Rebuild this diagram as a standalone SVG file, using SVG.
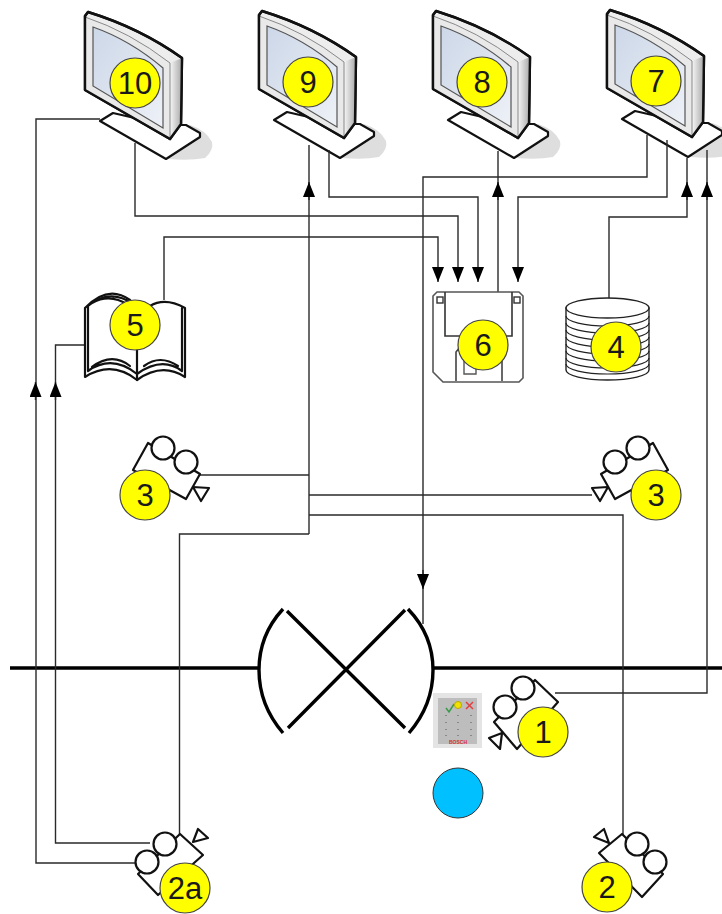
<svg xmlns="http://www.w3.org/2000/svg" width="722" height="914" viewBox="0 0 722 914">
<style>
.w{fill:none;stroke:#2a2a2a;stroke-width:1.4}
.i{fill:none;stroke:#111;stroke-width:2.2;stroke-linejoin:round;stroke-linecap:round}
.iw{fill:#fff;stroke:#111;stroke-width:2.2;stroke-linejoin:round}
.t{fill:none;stroke:#000;stroke-width:3.4}
.b{fill:#ffff00;stroke:#444;stroke-width:1.2}
.n{font-family:"Liberation Sans",Arial,sans-serif;font-size:31px;fill:#1a1a1a;text-anchor:middle}
</style>
<defs>
<marker id="a" viewBox="0 0 15 12" markerWidth="15" markerHeight="12" refX="15" refY="6" orient="auto" markerUnits="userSpaceOnUse"><path d="M0 0L15 6L0 12z" fill="#000"/></marker>
<linearGradient id="s" x1="0" y1="0" x2="1" y2="1"><stop offset="0" stop-color="#ccd7e8"/><stop offset="1" stop-color="#eef1f7"/></linearGradient>
<linearGradient id="f" x1="0" y1="0" x2="1" y2="0"><stop offset="0" stop-color="#f6f6f6"/><stop offset="1" stop-color="#a8a8a8"/></linearGradient>
<g id="mon">
<path d="M168 159Q190 161 205 158Q214 150 212 142Q206 130 190 125z" fill="#dedede"/>
<path class="iw" d="M100 121L113 113L165 125L186 125L200 133L200 137L166 159z" fill="#f4f4f4"/>
<path d="M85 16L88 12Q140 28 182 58L181 124L170 139L85 90z" fill="#ededed" stroke="#111" stroke-width="2.4" stroke-linejoin="round"/>
<path d="M170 63L182 58L181 124L170 139z" fill="url(#f)"/>
<path d="M85 17Q130 32 170 63L170 138L85 90z" fill="#e9e9e9" stroke="#888" stroke-width="1"/>
<path d="M93 27Q130 40 163 68L163 128L93 86z" fill="url(#s)" stroke="#555" stroke-width="1.200"/>
<path d="M85 16L88 12Q140 28 182 58L181 124L170 139L85 90z" fill="none" stroke="#111" stroke-width="2.400" stroke-linejoin="round"/>
</g>
<g id="cam">
<path class="iw" d="M148 443L133 470L186 499L200 474z"/>
<circle class="iw" cx="163" cy="448" r="11.500"/>
<circle class="iw" cx="186" cy="462" r="11.500"/>
<path class="iw" d="M193 487L209 488L201 501z"/>
</g>
</defs>
<rect width="722" height="914" fill="#fff"/>

<g id="barrier">
<path class="t" d="M10 668H259M434 668H722"/>
<path class="t" d="M287 611L405 728M405 610L288 728"/>
<path class="t" d="M283 609Q259 635 259 670Q259 705 283 733"/>
<path class="t" d="M408 609Q433 635 433 670Q433 705 409 733"/>
</g>

<g id="node-10"><use href="#mon"/><circle class="b" cx="135" cy="83" r="25"/><text class="n" x="135" y="94">10</text></g>
<g id="node-9"><use href="#mon" x="174" y="-1"/><circle class="b" cx="308" cy="82" r="25"/><text class="n" x="308" y="93">9</text></g>
<g id="node-8"><use href="#mon" x="348" y="-1"/><circle class="b" cx="482" cy="82" r="25"/><text class="n" x="482" y="93">8</text></g>
<g id="node-7"><use href="#mon" x="522" y="-2"/><circle class="b" cx="656" cy="81" r="25"/><text class="n" x="656" y="92">7</text></g>

<g id="connectors">
<path class="w" d="M100 119H36V863H140"/>
<path class="w" d="M35.500 400V382" marker-end="url(#a)"/>
<path class="w" d="M150 843H55.500V345H85"/>
<path class="w" d="M55.500 400V382" marker-end="url(#a)"/>
<path class="w" d="M135 143V216H458V282" marker-end="url(#a)"/>
<path class="w" d="M164 300V237H438V282" marker-end="url(#a)"/>
<path class="w" d="M329 150V197H478V282" marker-end="url(#a)"/>
<path class="w" d="M309 534V145"/>
<path class="w" d="M309 200V182" marker-end="url(#a)"/>
<path class="w" d="M200 475H309"/>
<path class="w" d="M309 495H592"/>
<path class="w" d="M309 515H623V835"/>
<path class="w" d="M309 534H179.500V834"/>
<path class="w" d="M498 292V151"/>
<path class="w" d="M498 200V182" marker-end="url(#a)"/>
<path class="w" d="M647 135V177H423V624"/>
<path class="w" d="M423 570V589" marker-end="url(#a)"/>
<path class="w" d="M667 140V197H518V282" marker-end="url(#a)"/>
<path class="w" d="M609 298V217H687V158"/>
<path class="w" d="M687 200V182" marker-end="url(#a)"/>
<path class="w" d="M555 693H707V150"/>
<path class="w" d="M707 200V182" marker-end="url(#a)"/>
</g>

<g id="node-5">
<path d="M85 308V377Q112 360 137 380Q162 362 185 377V308Q165 297 150 306L137 312L130 300Q108 284 85 308z" fill="#fff" stroke="#111" stroke-width="2.200" stroke-linejoin="round"/>
<path class="i" d="M88 306Q110 288 133 304M92 303Q110 293 128 305M137 312V380M88 306V371M182 308V371M88 371Q112 354 137 374Q162 356 182 371M92 367Q112 352 130 366M144 366Q160 354 178 366"/>
<circle class="b" cx="135" cy="325" r="25"/><text class="n" x="135" y="336">5</text>
</g>

<g id="node-6">
<path d="M437 292H519L523 296V378L519 382H443L433 372V296z" fill="#fff" stroke="#555" stroke-width="1.600" stroke-linejoin="round"/>
<path d="M445 292V336H512V292" fill="none" stroke="#333" stroke-width="1.600"/>
<path d="M456 381V352L460 347H502V381" fill="none" stroke="#444" stroke-width="1.600"/>
<path d="M464 358V374H476V358" fill="none" stroke="#555" stroke-width="1.400"/>
<rect x="437" y="297" width="6" height="6" fill="#fff" stroke="#333" stroke-width="1.400"/>
<rect x="514" y="297" width="6" height="6" fill="#fff" stroke="#333" stroke-width="1.400"/>
<circle class="b" cx="483" cy="345" r="25"/><text class="n" x="483" y="356">6</text>
</g>

<g id="node-4">
<path d="M566 308V370A41.500 10 0 0 0 649 370V308z" fill="#fff" stroke="#222" stroke-width="1.400"/>
<ellipse cx="607.500" cy="308" rx="41.500" ry="10" fill="#fff" stroke="#222" stroke-width="1.400"/>
<path d="M566 316A41.500 10 0 0 0 649 316M566 323A41.500 10 0 0 0 649 323M566 330A41.500 10 0 0 0 649 330M566 337A41.500 10 0 0 0 649 337M566 344A41.500 10 0 0 0 649 344M566 351A41.500 10 0 0 0 649 351M566 358A41.500 10 0 0 0 649 358M566 364A41.500 10 0 0 0 649 364" fill="none" stroke="#222" stroke-width="1.200"/>
<circle class="b" cx="616" cy="347" r="25"/><text class="n" x="616" y="358">4</text>
</g>

<g id="node-3-left"><use href="#cam"/><circle class="b" cx="145" cy="495" r="25"/><text class="n" x="145" y="506">3</text></g>
<g id="node-3-right"><use href="#cam" transform="matrix(-1 0 0 1 801 0)"/><circle class="b" cx="656" cy="495" r="25"/><text class="n" x="656" y="506">3</text></g>

<g id="node-1">
<path class="iw" d="M535 680L558 702L517 749L494 722z"/>
<circle class="iw" cx="523" cy="688" r="11.500"/>
<circle class="iw" cx="505" cy="707" r="11.500"/>
<path class="iw" d="M489 738L502 733L500 749z"/>
<circle class="b" cx="543" cy="732" r="25"/><text class="n" x="543" y="743">1</text>
</g>

<g id="keypad">
<rect x="433" y="693" width="49" height="55" fill="#e4e4e4"/>
<rect x="438" y="698" width="39" height="46" fill="#bdbdbd"/>
<path d="M446 708L449 712L454 704" fill="none" stroke="#3a9a4a" stroke-width="1.500"/>
<circle cx="458" cy="705" r="3.500" fill="#f2e200" stroke="#b5a800"/>
<path d="M466 702L473 709M473 702L466 709" stroke="#e04040" stroke-width="1.500"/>
<path d="M446 715v1M458 715v1M471 715v1M446 722v1M458 722v1M471 722v1M446 729v1M458 729v1M471 729v1M446 735v1M458 735v1M471 735v1" stroke="#666" stroke-width="1.200"/>
<text x="458" y="744" font-family="Liberation Sans,sans-serif" font-size="5" font-weight="bold" fill="#d83030" text-anchor="middle">BOSCH</text>
</g>

<g id="indicator"><circle cx="458" cy="793" r="25" fill="#00c0ff" stroke="#333" stroke-width="1"/></g>

<g id="node-2a">
<path class="iw" d="M180 834L203 855L158 895L138 874z"/>
<circle class="iw" cx="165" cy="844" r="11.500"/>
<circle class="iw" cx="147" cy="862" r="11.500"/>
<path class="iw" d="M193 842L198 829L208 838z"/>
<circle class="b" cx="185" cy="888" r="25"/><text class="n" x="185" y="899">2a</text>
</g>

<g id="node-2">
<path class="iw" d="M622 834L599 853L642 897L663 874z"/>
<circle class="iw" cx="637" cy="844" r="11.500"/>
<circle class="iw" cx="655" cy="862" r="11.500"/>
<path class="iw" d="M609 843L604 829L594 837z"/>
<circle class="b" cx="607" cy="887" r="25"/><text class="n" x="607" y="898">2</text>
</g>
</svg>
